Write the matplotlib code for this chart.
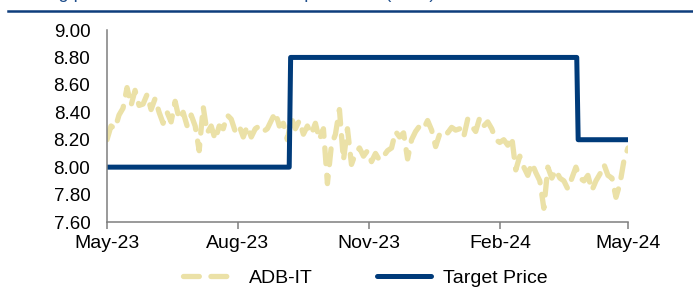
import numpy as np
import pandas as pd
import matplotlib
matplotlib.use("Agg")
import matplotlib.pyplot as plt
import matplotlib.dates as mdates
from matplotlib.lines import Line2D

# ADB-IT closing price, sampled roughly every second trading day (May-23 .. May-24)
price = [
    8.20, 8.30, 8.28, 8.38, 8.43, 8.58, 8.45, 8.56, 8.45, 8.46,
    8.53, 8.42, 8.50, 8.40, 8.32, 8.40, 8.33, 8.48, 8.35, 8.40,
    8.30, 8.38, 8.30, 8.12, 8.44, 8.25, 8.30, 8.20, 8.30, 8.28,
    8.38, 8.35, 8.26, 8.30, 8.22, 8.30, 8.22, 8.28, 8.30, 8.26,
    8.28, 8.34, 8.40, 8.30, 8.32, 8.20, 8.36, 8.28, 8.34, 8.24,
    8.30, 8.24, 8.32, 8.20, 8.28, 7.88, 8.16, 8.24, 8.42, 8.05,
    8.28, 8.02, 8.10, 8.14, 8.08, 8.12, 8.04, 8.10, 8.05, 8.08,
    8.12, 8.14, 8.26, 8.22, 8.25, 8.06, 8.20, 8.26, 8.30, 8.28,
    8.34, 8.27, 8.15, 8.24, 8.27, 8.25, 8.29, 8.27, 8.28, 8.22,
    8.35, 8.30, 8.26, 8.36, 8.30, 8.33, 8.28, 8.20, 8.18, 8.20,
    8.16, 8.22, 7.98, 8.08, 8.00, 7.94, 8.03, 7.96, 7.90, 7.70,
    8.00, 7.92, 7.98, 7.92, 7.90, 7.84, 7.92, 8.00, 7.92, 7.90,
    7.94, 7.83, 7.90, 7.95, 8.02, 7.94, 7.92, 7.78, 7.88, 8.05,
    8.14,
]
price_start = "2023-05-01"
price_end = "2024-05-01"

# target price history (step changes)
tp_dates = ["2023-05-01", "2023-09-06", "2023-09-07", "2024-03-26", "2024-03-27", "2024-05-01"]
tp_values = [8.00, 8.00, 8.80, 8.80, 8.20, 8.20]

x_ticks = ["2023-05-01", "2023-08-01", "2023-11-01", "2024-02-01", "2024-05-01"]
y_ticks = [7.60, 7.80, 8.00, 8.20, 8.40, 8.60, 8.80, 9.00]

title = "Trading price and fair value estimate per share (EUR)"

BLUE = "#003b7a"
SAND = "#ebe1a7"
GREY = "#7f7f7f"
FONT = "Liberation Sans"

price_dates = pd.date_range(price_start, price_end, periods=len(price))

fig = plt.figure(figsize=(6.93, 2.93), dpi=100)
ax = fig.add_axes([0.1544, 0.2423, 0.7518, 0.6553])

ax.plot(price_dates, price, color=SAND, lw=3.8, ls=(0, (3, 2.2)),
        dash_capstyle="round", dash_joinstyle="round", label="ADB-IT")
ax.plot(pd.to_datetime(tp_dates), tp_values, color=BLUE, lw=3.6,
        solid_joinstyle="round", solid_capstyle="round", label="Target Price")

ax.set_xlim(pd.Timestamp(price_start), pd.Timestamp(price_end))
ax.set_ylim(7.6, 9.0)
ax.set_yticks(y_ticks)
ax.set_yticklabels([f"{v:.2f}" for v in y_ticks], fontfamily=FONT, fontsize=13.5)
ax.set_xticks(pd.to_datetime(x_ticks))
ax.xaxis.set_major_formatter(mdates.DateFormatter("%b-%y"))
for lbl in ax.get_xticklabels():
    lbl.set_fontfamily(FONT)
    lbl.set_fontsize(14)

for s in ["top", "right"]:
    ax.spines[s].set_visible(False)
for s in ["left", "bottom"]:
    ax.spines[s].set_color(GREY)
    ax.spines[s].set_linewidth(1.1)
ax.tick_params(axis="y", length=0, pad=12, colors="black")
ax.tick_params(axis="x", length=5, width=1.1, color=GREY, pad=4)

leg = ax.legend(loc="center", bbox_to_anchor=(0.527, 0.05), bbox_transform=fig.transFigure,
                ncol=2, frameon=False, handlelength=2.8, handletextpad=0.6,
                columnspacing=3.3, prop={"family": FONT, "size": 14})

# header rule and the (cropped) title above it
fig.add_artist(Line2D([8 / 693, 1.0], [1 - 10.5 / 293] * 2, transform=fig.transFigure,
                      color="#0e3d7c", lw=1.8))
fig.text(8 / 693, 1 + 2 / 293, title, color="#1f4e8c", fontsize=13,
         fontfamily=FONT, va="baseline", ha="left")

fig.savefig("out.png", dpi=100)
